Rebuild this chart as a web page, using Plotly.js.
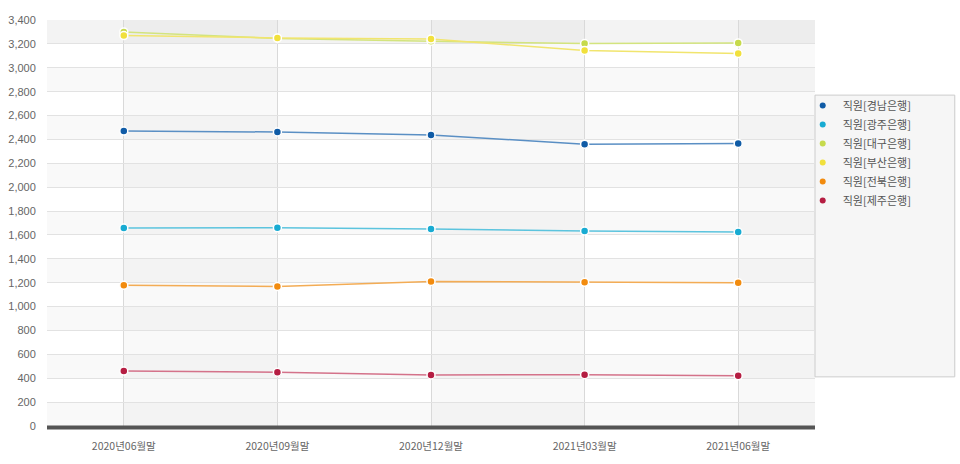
<!DOCTYPE html>
<html>
<head>
<meta charset="utf-8">
<script src="https://cdn.plot.ly/plotly-3.0.1.min.js"></script>
<style>html,body{margin:0;padding:0;background:#fff;}#chart{width:960px;height:464px;}</style>
</head>
<body>
<div id="chart"></div>
<script>
const categories = ["2020년06월말", "2020년09월말", "2020년12월말", "2021년03월말", "2021년06월말"];
const seriesNames = ["직원[경남은행]", "직원[광주은행]", "직원[대구은행]", "직원[부산은행]", "직원[전북은행]", "직원[제주은행]"];
const gyeongnam = [2470, 2462, 2437, 2360, 2366];
const gwangju   = [1658, 1660, 1650, 1632, 1624];
const daegu     = [3300, 3245, 3222, 3203, 3208];
const busan     = [3270, 3250, 3240, 3145, 3120];
const jeonbuk   = [1178, 1168, 1210, 1203, 1200];
const jeju      = [460, 450, 428, 430, 420];
const yTicks = [0,200,400,600,800,1000,1200,1400,1600,1800,2000,2200,2400,2600,2800,3000,3200,3400];

const values = [gyeongnam, gwangju, daegu, busan, jeonbuk, jeju];
const markerColors = ["#0f5ba6", "#18abd2", "#c6da4c", "#f1e03c", "#f28b0e", "#b51d42"];
const lineColors   = ["#5a8fc4", "#5cc4de", "#d3e47e", "#f1e56e", "#f3ac55", "#d4728a"];

const xIdx = categories.map((_, i) => i);
const traces = [];
values.forEach((v, k) => {
  traces.push({
    type: "scatter", mode: "lines+markers", x: xIdx, y: v, name: seriesNames[k],
    showlegend: false,
    line: {color: lineColors[k], width: 1.5},
    marker: {color: markerColors[k], size: 8, line: {color: "#ffffff", width: 1.5}},
    hoverinfo: "x+y+name"
  });
});
values.forEach((v, k) => {
  traces.push({
    type: "scatter", mode: "markers", x: [null], y: [null], name: seriesNames[k],
    showlegend: true,
    marker: {color: markerColors[k], size: 6}
  });
});

const shapes = [];
// horizontal alternating bands
for (let y0 = 0; y0 < 3400; y0 += 400) {
  shapes.push({type: "rect", layer: "below", xref: "paper", yref: "y", x0: 0, x1: 1, y0: y0, y1: y0 + 200,
    fillcolor: "rgba(0,0,0,0.022)", line: {width: 0}});
}
shapes.push({type: "rect", layer: "below", xref: "paper", yref: "y", x0: 0, x1: 1, y0: 3200, y1: 3400,
  fillcolor: "rgba(0,0,0,0.022)", line: {width: 0}});
// vertical bands
[[0, 1], [2, 3], [4, 4.5]].forEach(([a, b]) => {
  shapes.push({type: "rect", layer: "below", xref: "x", yref: "paper", x0: a, x1: b, y0: 0, y1: 1,
    fillcolor: "rgba(0,0,0,0.022)", line: {width: 0}});
});
// legend box
shapes.push({type: "rect", layer: "below", xref: "paper", yref: "paper", x0: 1.0, x1: 1.182, y0: 0.121, y1: 0.815,
  fillcolor: "#f6f6f6", line: {color: "#cccccc", width: 1}});
// baseline
shapes.push({type: "line", xref: "paper", yref: "paper", x0: 0, x1: 1, y0: -0.004, y1: -0.004,
  line: {color: "#555555", width: 4}});

const layout = {
  width: 960, height: 464,
  margin: {l: 47, r: 145, t: 20, b: 38},
  paper_bgcolor: "#ffffff", plot_bgcolor: "#ffffff",
  font: {family: "Noto Sans CJK KR, Noto Sans, sans-serif", color: "#666666", size: 11},
  xaxis: {
    range: [-0.5, 4.5], tickvals: xIdx, ticktext: categories,
    showgrid: true, gridcolor: "#d9d9d9", gridwidth: 1, zeroline: false, showline: false,
    ticks: "outside", ticklen: 10, tickcolor: "rgba(0,0,0,0)",
    tickfont: {family: "Noto Sans CJK KR", size: 10.5, color: "#666666"}, fixedrange: true
  },
  yaxis: {
    range: [0, 3400], tickvals: yTicks, ticktext: yTicks.map(t => t.toLocaleString("en-US")),
    showgrid: true, gridcolor: "#e2e2e2", gridwidth: 1, zeroline: false, showline: false,
    ticks: "outside", ticklen: 8, tickcolor: "rgba(0,0,0,0)",
    tickfont: {family: "Liberation Sans, Arial, sans-serif", size: 11, color: "#666666"}, fixedrange: true
  },
  legend: {
    x: 0.984, y: 0.825, xanchor: "left", yanchor: "top",
    bgcolor: "rgba(0,0,0,0)", borderwidth: 0,
    font: {family: "Noto Sans CJK KR", size: 11, color: "#555555"},
    tracegroupgap: 0
  },
  shapes: shapes,
  showlegend: true
};

Plotly.newPlot("chart", traces, layout, {displayModeBar: false, staticPlot: false});
</script>
</body>
</html>
